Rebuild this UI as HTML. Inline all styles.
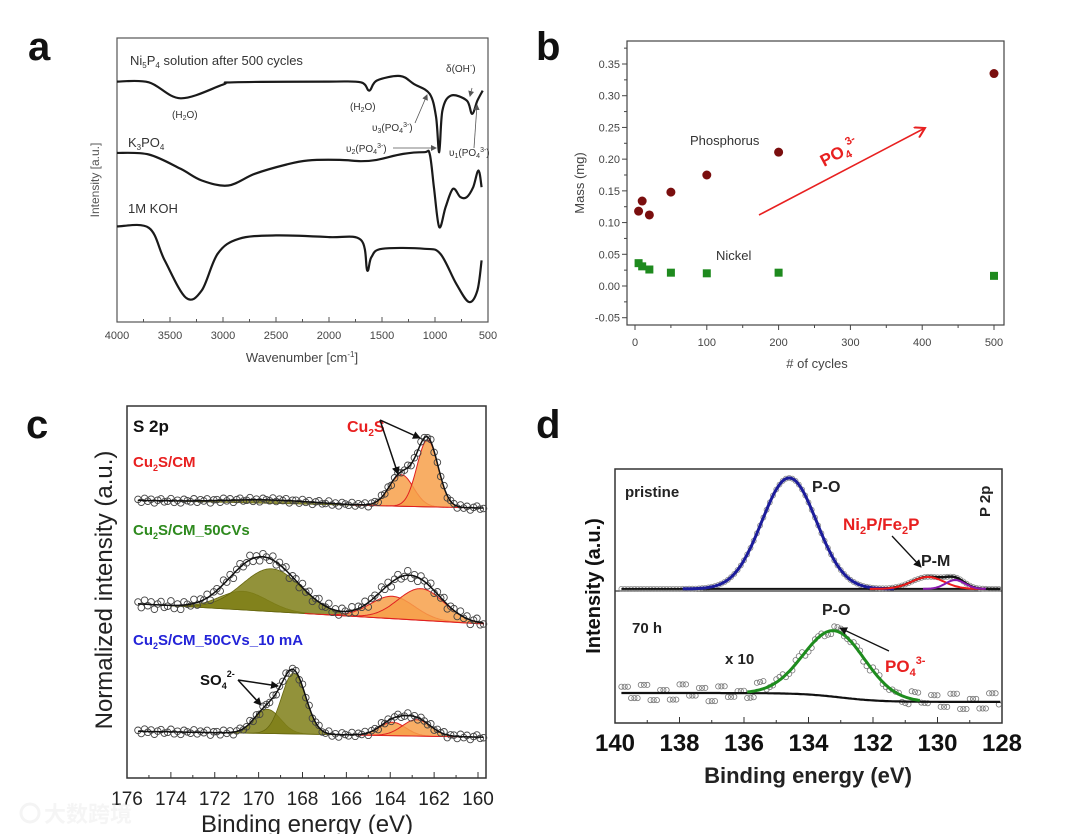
<!DOCTYPE html>
<html><head><meta charset="utf-8"><style>
body{margin:0;background:#fff;}
svg{display:block;font-family:"Liberation Sans",Arial,sans-serif;}
</style></head><body>
<svg id="fig" width="1080" height="834" viewBox="0 0 1080 834">
<rect width="1080" height="834" fill="#fff"/>
<defs>
<marker id="ar" markerWidth="8" markerHeight="8" refX="7" refY="4" orient="auto" markerUnits="userSpaceOnUse"><path d="M0,0 L8,4 L0,8 z" fill="#111"/></marker>
<marker id="arG" markerWidth="6" markerHeight="6" refX="5" refY="3" orient="auto" markerUnits="userSpaceOnUse"><path d="M0,0 L6,3 L0,6 z" fill="#555"/></marker>
<marker id="arR" markerWidth="12" markerHeight="12" refX="10" refY="6" orient="auto" markerUnits="userSpaceOnUse"><path d="M0,0 L10,6 L0,12" fill="none" stroke="#e82020" stroke-width="2"/></marker>
</defs>
<text x="28" y="60" font-size="40" font-weight="bold" fill="#111">a</text>
<text x="536" y="60" font-size="40" font-weight="bold" fill="#111">b</text>
<text x="26" y="438" font-size="40" font-weight="bold" fill="#111">c</text>
<text x="536" y="438" font-size="40" font-weight="bold" fill="#111">d</text>

<g id="pa"></g>
<g id="pb"></g>
<g id="pc"></g>
<g id="pd"></g>

<g opacity="0.6">
<circle cx="30" cy="813" r="9" fill="none" stroke="#eee" stroke-width="3"/>
<text x="44" y="822" font-size="22" fill="#f0f0f0" font-family="'Liberation Sans','Noto Sans CJK SC',sans-serif" font-weight="bold">大数跨境</text>
</g>
</svg>
<script>
const NS="http://www.w3.org/2000/svg";
function mk(parent,tag,attrs,txt){const e=document.createElementNS(NS,tag);for(const k in attrs)e.setAttribute(k,attrs[k]);if(txt!==undefined)e.innerHTML=txt;parent.appendChild(e);return e;}
function lin(d0,d1,r0,r1){return v=>r0+(v-d0)*(r1-r0)/(d1-d0);}
function smooth(pts){let d="M"+pts[0][0].toFixed(1)+","+pts[0][1].toFixed(1);
 for(let i=0;i<pts.length-1;i++){const p0=pts[Math.max(0,i-1)],p1=pts[i],p2=pts[i+1],p3=pts[Math.min(pts.length-1,i+2)];
 const c1=[p1[0]+(p2[0]-p0[0])/6,p1[1]+(p2[1]-p0[1])/6],c2=[p2[0]-(p3[0]-p1[0])/6,p2[1]-(p3[1]-p1[1])/6];
 d+=" C"+c1[0].toFixed(1)+","+c1[1].toFixed(1)+" "+c2[0].toFixed(1)+","+c2[1].toFixed(1)+" "+p2[0].toFixed(1)+","+p2[1].toFixed(1);}return d;}
function gauss(x,c,h,s){return h*Math.exp(-0.5*((x-c)/s)**2);}

/* ===== Panel A data ===== */
const aWave1=[4000,3700,3400,3000,2900,2000,1700,1620,1550,1330,1200,1050,990,960,930,850,700,650,600,550];
const aNi5P4=[722,720,672,713,720,722,720,695,725,739,715,685,615,510,635,680,665,625,665,695];
const aWave2=[4000,3700,3400,3200,2950,2700,2400,2200,1900,1700,1550,1300,1100,1050,1010,960,900,830,760,700,640,590,560];
const aK3PO4=[508,503,460,425,410,445,473,485,487,483,487,505,510,505,405,285,345,400,375,375,405,455,405];
const aWave3=[4000,3700,3550,3350,3200,3050,2850,2500,2000,1700,1640,1600,1500,1100,950,800,680,600,560];
const aKOH=[287,283,185,73,95,205,250,260,255,247,155,195,220,220,205,115,60,95,185];
const aTicks=[4000,3500,3000,2500,2000,1500,1000,500];

/* ===== Panel B data ===== */
const bCycles=[5,10,20,50,100,200,500];
const bPhosphorus=[0.118,0.134,0.112,0.148,0.175,0.211,0.335];
const bNickel=[0.036,0.031,0.026,0.021,0.020,0.021,0.016];
const bXTicks=[0,100,200,300,400,500];
const bYTicks=[-0.05,0.00,0.05,0.10,0.15,0.20,0.25,0.30,0.35];

/* ===== Panel C data ===== */
const cTicks=[176,174,172,170,168,166,164,162,160];
const cBaseTop=[74.7,72.6], cBaseMid=[47.0,41.5], cBaseBot=[12.6,11.0];
const cTopOliveC=[169.5], cTopOliveH=[0.9], cTopOliveS=[2.0];
const cTopOrangeC=[163.5,162.3], cTopOrangeH=[8.5,18.0], cTopOrangeS=[0.55,0.48];
const cMidOliveC=[170.7,169.4], cMidOliveH=[5.0,11.5], cMidOliveS=[1.1,1.35];
const cMidOrangeC=[163.9,162.6], cMidOrangeH=[6.0,8.5], cMidOrangeS=[1.0,1.05];
const cBotOliveC=[169.6,168.4], cBotOliveH=[6.5,16.4], cBotOliveS=[0.6,0.55];
const cBotOrangeC=[163.9,162.8], cBotOrangeH=[3.6,4.4], cBotOrangeS=[0.6,0.65];
const cNoise=[0.4,-0.8,0.9,-0.3,0.6,-1.0,0.2,0.8,-0.5,-0.2,1.0,-0.7,0.3,-0.9,0.7,0.1,-0.4,0.9,-0.6,0.5,-0.1,0.8,-1.0,0.3];

/* ===== Panel D data ===== */
const dTicks=[140,138,136,134,132,130,128];
const dPristineBase=52.8;
const dPOC=[134.6], dPOH=[43.7], dPOS=[0.85];
const dPMC=[130.3,129.45], dPMH=[4.7,3.5], dPMS=[0.5,0.3];
const d70Base=[11.8,8.3], d70Step=133.0;
const d70C=[133.2], d70H=[26], d70S=[0.95];
const dNoise=[2.5,-2.0,3.2,-2.8,1.2,-2.6,3.4,-1.0,2.0,-3.2,2.6,-1.6,0.6,-2.4,3.0,-0.8];

/* ---------- Panel A ---------- */
(function(){
const g=document.getElementById('pa');
const L=117,R=488,T=38,B=322;
const x=lin(4000,500,L,R), y=lin(0,850,B,T+1);
const fr=mk(g,'rect',{x:L,y:T,width:R-L,height:B-T,fill:'none',stroke:'#555','stroke-width':1.2});

for(let v=4000;v>=500;v-=250){const t=mk(g,'line',{x1:x(v),x2:x(v),y1:B,y2:B-(v%500===0?5:3),stroke:'#555'});}
aTicks.forEach(v=>{const t=mk(g,'text',{x:x(v),y:339,'font-size':11,'text-anchor':'middle',fill:'#444'},v);});
const xt=mk(g,'text',{x:302,y:362,'font-size':13,'text-anchor':'middle',fill:'#444'},'Wavenumber [cm<tspan dy="-5" font-size="8">-1</tspan><tspan dy="5">]</tspan>');

const yt=mk(g,'text',{x:0,y:0,'font-size':12,'text-anchor':'middle',fill:'#555',transform:'translate(99,180) rotate(-90)'},'Intensity [a.u.]');

[[aWave1,aNi5P4,'ni5p4-spectrum'],[aWave2,aK3PO4,'k3po4-spectrum'],[aWave3,aKOH,'koh-spectrum']].forEach(([w,v,n])=>{
 const p=mk(g,'path',{d:smooth(w.map((a,i)=>[x(a),y(v[i])])),fill:'none',stroke:'#1a1a1a','stroke-width':2.2});
 });
const texts=[[130,65,13,'Ni<tspan font-size="8" dy="3">5</tspan><tspan dy="-3">P</tspan><tspan font-size="8" dy="3">4</tspan><tspan dy="-3"> solution after 500 cycles</tspan>','label-ni5p4'],
[128,147,13,'K<tspan font-size="8" dy="3">3</tspan><tspan dy="-3">PO</tspan><tspan font-size="8" dy="3">4</tspan>','label-k3po4'],
[128,213,13,'1M KOH','label-koh'],
[172,118,10,'(H<tspan font-size="7" dy="2">2</tspan><tspan dy="-2">O)</tspan>','label-h2o-1'],
[350,110,10,'(H<tspan font-size="7" dy="2">2</tspan><tspan dy="-2">O)</tspan>','label-h2o-2'],
[446,72,10,'δ(OH<tspan font-size="7" dy="-4">-</tspan><tspan dy="4">)</tspan>','label-delta-oh'],
[372,131,10,'υ<tspan font-size="7" dy="2">3</tspan><tspan dy="-2">(PO</tspan><tspan font-size="7" dy="2">4</tspan><tspan font-size="7" dy="-6">3-</tspan><tspan dy="4">)</tspan>','label-v3'],
[346,152,10,'υ<tspan font-size="7" dy="2">2</tspan><tspan dy="-2">(PO</tspan><tspan font-size="7" dy="2">4</tspan><tspan font-size="7" dy="-6">3-</tspan><tspan dy="4">)</tspan>','label-v2'],
[449,156,10,'υ<tspan font-size="7" dy="2">1</tspan><tspan dy="-2">(PO</tspan><tspan font-size="7" dy="2">4</tspan><tspan font-size="7" dy="-6">3-</tspan><tspan dy="4">)</tspan>','label-v1']];
texts.forEach(t=>{const e=mk(g,'text',{x:t[0],y:t[1],'font-size':t[2],fill:'#333'},t[3]);});
[[415,123,427,95],[393,148,436,148],[472,88,470,96],[474,148,477,105]].forEach(a=>{const l=mk(g,'line',{x1:a[0],y1:a[1],x2:a[2],y2:a[3],stroke:'#555','stroke-width':0.8,'marker-end':'url(#arG)'});});
})();

/* ---------- Panel B ---------- */
(function(){
const g=document.getElementById('pb');
const L=627,R=1004,T=41,B=325;
const x=lin(0,500,635,994), y=lin(0,0.35,286,64);
const fr=mk(g,'rect',{x:L,y:T,width:R-L,height:B-T,fill:'none',stroke:'#444','stroke-width':1.2});

for(let v=0;v<=500;v+=50){const t=mk(g,'line',{x1:x(v),x2:x(v),y1:B,y2:B+(v%100===0?5:3),stroke:'#444'});}
bXTicks.forEach(v=>{const t=mk(g,'text',{x:x(v),y:346,'font-size':11,'text-anchor':'middle',fill:'#444'},v);});
for(let k=-2;k<=15;k++){const v=k*0.025;const t=mk(g,'line',{x1:L,x2:L-(k%2===0?5:3),y1:y(v),y2:y(v),stroke:'#444'});}
bYTicks.forEach(v=>{const t=mk(g,'text',{x:620,y:y(v)+4,'font-size':11,'text-anchor':'end',fill:'#444'},v.toFixed(2));});
const xt=mk(g,'text',{x:817,y:368,'font-size':13,'text-anchor':'middle',fill:'#444'},'# of cycles');
const yt=mk(g,'text',{x:0,y:0,'font-size':13,'text-anchor':'middle',fill:'#444',transform:'translate(584,183) rotate(-90)'},'Mass (mg)');
bCycles.forEach((c,i)=>{
 const p=mk(g,'circle',{cx:x(c),cy:y(bPhosphorus[i]),r:4.5,fill:'#7a0e0e'});
 const n=mk(g,'rect',{x:x(c)-4,y:y(bNickel[i])-4,width:8,height:8,fill:'#1e8a1e'});});
const t1=mk(g,'text',{x:690,y:145,'font-size':13,fill:'#333'},'Phosphorus');
const t2=mk(g,'text',{x:716,y:260,'font-size':13,fill:'#333'},'Nickel');
const ar=mk(g,'line',{x1:759,y1:215,x2:925,y2:128,stroke:'#e82020','stroke-width':1.6,'marker-end':'url(#arR)'});
const t3=mk(g,'text',{x:0,y:0,'font-size':17,'font-weight':'bold',fill:'#e82020',transform:'translate(824,167) rotate(-28)'},'PO<tspan font-size="11" dy="4">4</tspan><tspan font-size="11" dy="-12">3-</tspan>');
})();

/* ---------- Panel C ---------- */
(function(){
const g=document.getElementById('pc');
const L=127,R=486,T=406,B=778;
const x=lin(176,160,127,478), y=lin(0,100,778,406);
const fr=mk(g,'rect',{x:L,y:T,width:R-L,height:B-T,fill:'none',stroke:'#333','stroke-width':1.5});

for(let v=176;v>=160;v-=1){const t=mk(g,'line',{x1:x(v),x2:x(v),y1:B,y2:B-(v%2===0?6:3),stroke:'#333'});}
cTicks.forEach(v=>{const t=mk(g,'text',{x:x(v),y:805,'font-size':19,'text-anchor':'middle',fill:'#222'},v);});
const xt=mk(g,'text',{x:307,y:832,'font-size':24,'text-anchor':'middle',fill:'#222'},'Binding energy (eV)');
const yt=mk(g,'text',{x:0,y:0,'font-size':24,'text-anchor':'middle',fill:'#222',transform:'translate(112,590) rotate(-90)'},'Normalized intensity (a.u.)');
const xs=[];for(let e=175.5;e>=159.7;e-=0.05)xs.push(e);
function base(b,e){return b[0]+(b[1]-b[0])*(176-e)/16;}
function draw(name,b,oc,oh,os,rc,rh,rs,nAmp){
 function fillComp(c,h,s,lo,hi){const pts=xs.filter(e=>e<=hi&&e>=lo);
  let d='M'+x(pts[0]).toFixed(1)+','+y(base(b,pts[0])).toFixed(1);
  pts.forEach(e=>{d+=' L'+x(e).toFixed(1)+','+y(base(b,e)+gauss(e,c,h,s)).toFixed(1);});
  d+=' L'+x(pts[pts.length-1]).toFixed(1)+','+y(base(b,pts[pts.length-1])).toFixed(1)+'Z';return d;}
 oc.forEach((c,i)=>{const p=mk(g,'path',{d:fillComp(c,oh[i],os[i],c-4*os[i],c+4*os[i]),fill:'#7f7f18','fill-opacity':0.85,stroke:'#66660e','stroke-width':0.8});});
 rc.forEach((c,i)=>{const p=mk(g,'path',{d:fillComp(c,rh[i],rs[i],c-4*rs[i],c+4*rs[i]),fill:'#f7a04a','fill-opacity':0.85,stroke:'#e02020','stroke-width':1});});
 const env=e=>{let v=base(b,e);oc.forEach((c,i)=>v+=gauss(e,c,oh[i],os[i]));rc.forEach((c,i)=>v+=gauss(e,c,rh[i],rs[i]));return v;};
 let k=0;
 xs.forEach((e,i)=>{if(i%3)return;const n=cNoise[k%cNoise.length]*nAmp;k++;
  const c=mk(g,'circle',{cx:x(e).toFixed(1),cy:y(env(e)+n).toFixed(1),r:3.3,fill:'none',stroke:'#444','stroke-width':0.9});
  });
 const p=mk(g,'path',{d:'M'+xs.map(e=>x(e).toFixed(1)+','+y(env(e)).toFixed(1)).join(' L'),fill:'none',stroke:'#111','stroke-width':1.5});
 
}
draw('cu2s-cm',cBaseTop,cTopOliveC,cTopOliveH,cTopOliveS,cTopOrangeC,cTopOrangeH,cTopOrangeS,0.6);
draw('cu2s-cm-50cvs',cBaseMid,cMidOliveC,cMidOliveH,cMidOliveS,cMidOrangeC,cMidOrangeH,cMidOrangeS,1.2);
draw('cu2s-cm-50cvs-10ma',cBaseBot,cBotOliveC,cBotOliveH,cBotOliveS,cBotOrangeC,cBotOrangeH,cBotOrangeS,0.7);
const T2=[[133,432,17,'#111','S 2p','label-s2p'],
[347,432,16,'#e82020','Cu<tspan font-size="10" dy="4">2</tspan><tspan dy="-4">S</tspan>','label-cu2s'],
[133,467,15,'#e82020','Cu<tspan font-size="9" dy="4">2</tspan><tspan dy="-4">S/CM</tspan>','label-cu2s-cm'],
[133,535,15,'#2e8a1e','Cu<tspan font-size="9" dy="4">2</tspan><tspan dy="-4">S/CM_50CVs</tspan>','label-cu2s-cm-50cvs'],
[133,645,15,'#2424d8','Cu<tspan font-size="9" dy="4">2</tspan><tspan dy="-4">S/CM_50CVs_10 mA</tspan>','label-cu2s-cm-50cvs-10ma'],
[200,685,15,'#111','SO<tspan font-size="9" dy="4">4</tspan><tspan font-size="9" dy="-12">2-</tspan>','label-so4']];
T2.forEach(t=>{const e=mk(g,'text',{x:t[0],y:t[1],'font-size':t[2],'font-weight':'bold',fill:t[3]},t[4]);});
[[380,420,398,474],[380,420,420,438],[238,680,261,705],[238,680,278,686]].forEach(a=>{const l=mk(g,'line',{x1:a[0],y1:a[1],x2:a[2],y2:a[3],stroke:'#111','stroke-width':1.5,'marker-end':'url(#ar)'});});
})();

/* ---------- Panel D ---------- */
(function(){
const g=document.getElementById('pd');
const L=615,R=1002,T=469,B=723;
const x=lin(140,128,615,1002), y=lin(0,100,723,469);
const fr=mk(g,'rect',{x:L,y:T,width:R-L,height:B-T,fill:'none',stroke:'#333','stroke-width':1.5});

const dv=mk(g,'line',{x1:L,x2:R,y1:591,y2:591,stroke:'#333','stroke-width':1.2});
for(let v=140;v>=128;v-=1){const t=mk(g,'line',{x1:x(v),x2:x(v),y1:B,y2:B-(v%2===0?6:3),stroke:'#333'});}
dTicks.forEach(v=>{const t=mk(g,'text',{x:x(v),y:751,'font-size':24,'font-weight':'bold','text-anchor':'middle',fill:'#111'},v);});
const xt=mk(g,'text',{x:808,y:783,'font-size':22,'font-weight':'bold','text-anchor':'middle',fill:'#222'},'Binding energy (eV)');
const yt=mk(g,'text',{x:0,y:0,'font-size':20,'font-weight':'bold','text-anchor':'middle',fill:'#111',transform:'translate(600,586) rotate(-90)'},'Intensity (a.u.)');
const xs=[];for(let e=139.8;e>=128;e-=0.05)xs.push(e);
const pathR=(f,lo,hi)=>{const s=xs.filter(e=>e>=lo&&e<=hi);return 'M'+s.map(e=>x(e).toFixed(1)+','+y(f(e)).toFixed(1)).join(' L');};
const path=f=>pathR(f,0,999);
const envP=e=>{let v=dPristineBase;dPOC.forEach((c,i)=>v+=gauss(e,c,dPOH[i],dPOS[i]));dPMC.forEach((c,i)=>v+=gauss(e,c,dPMH[i],dPMS[i]));return v;};
xs.forEach((e,i)=>{if(i%2)return;const c=mk(g,'circle',{cx:x(e).toFixed(1),cy:y(envP(e)).toFixed(1),r:2.5,fill:'none',stroke:'#888','stroke-width':0.8});});
let p=mk(g,'path',{d:path(e=>dPristineBase),fill:'none',stroke:'#111','stroke-width':2});
p=mk(g,'path',{d:pathR(envP,128,132),fill:'none',stroke:'#111','stroke-width':2.5});
p=mk(g,'path',{d:pathR(e=>dPristineBase+gauss(e,dPOC[0],dPOH[0],dPOS[0]),dPOC[0]-3.3,dPOC[0]+3.3),fill:'none',stroke:'#1c1c9a','stroke-width':3});
p=mk(g,'path',{d:pathR(e=>dPristineBase+gauss(e,dPMC[0],dPMH[0],dPMS[0]),dPMC[0]-1.8,dPMC[0]+1.8),fill:'none',stroke:'#ee1c1c','stroke-width':2});
p=mk(g,'path',{d:pathR(e=>dPristineBase+gauss(e,dPMC[1],dPMH[1],dPMS[1]),dPMC[1]-1,dPMC[1]+1),fill:'none',stroke:'#8a1ab0','stroke-width':2});
const b70=e=>d70Base[1]+(d70Base[0]-d70Base[1])/(1+Math.exp(-(e-d70Step)*1.6));
const env70=e=>b70(e)+gauss(e,d70C[0],d70H[0],d70S[0]);
let k=0;
xs.forEach((e,i)=>{if(i%2)return;const n=dNoise[Math.floor(k/3)%dNoise.length]*(Math.abs(e-133.2)<2?0.5:1);k++;
 const c=mk(g,'circle',{cx:x(e).toFixed(1),cy:y(env70(e)+n).toFixed(1),r:2.6,fill:'none',stroke:'#777','stroke-width':0.8});});
p=mk(g,'path',{d:path(b70),fill:'none',stroke:'#111','stroke-width':2.2});
p=mk(g,'path',{d:pathR(env70,130.5,135.9),fill:'none',stroke:'#1e8c1e','stroke-width':3});
const T2=[[625,497,15,'#222','pristine','label-pristine'],[812,492,16,'#222','P-O','label-p-o-pristine'],
[843,530,17,'#e82020','Ni<tspan font-size="11" dy="4">2</tspan><tspan dy="-4">P/Fe</tspan><tspan font-size="11" dy="4">2</tspan><tspan dy="-4">P</tspan>','label-ni2p-fe2p'],
[921,566,16,'#222','P-M','label-p-m'],[822,615,16,'#222','P-O','label-p-o-70h'],[632,633,15,'#222','70 h','label-70h'],
[725,664,15,'#222','x 10','label-x10'],[885,672,17,'#e82020','PO<tspan font-size="11" dy="4">4</tspan><tspan font-size="11" dy="-12">3-</tspan>','label-po4-d']];
T2.forEach(t=>{const e=mk(g,'text',{x:t[0],y:t[1],'font-size':t[2],'font-weight':'bold',fill:t[3]},t[4]);});
const pp=mk(g,'text',{x:0,y:0,'font-size':15,'font-weight':'bold',fill:'#222',transform:'translate(990,517) rotate(-90)'},'P 2p');
[[892,536,921,567],[889,651,840,628]].forEach(a=>{const l=mk(g,'line',{x1:a[0],y1:a[1],x2:a[2],y2:a[3],stroke:'#111','stroke-width':1.3,'marker-end':'url(#ar)'});});
})();
</script>
</body></html>
